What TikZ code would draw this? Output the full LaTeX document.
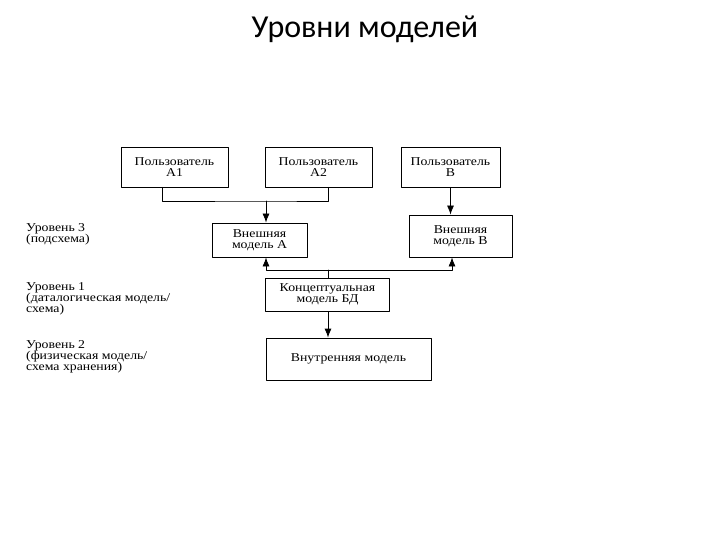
\documentclass[tikz,border=0pt]{standalone}
\usepackage{fontspec}
\setmainfont{Liberation Serif}
\newfontfamily\titlefont{Carlito}
\newfontfamily\boxfont[FakeStretch=1.15]{Liberation Serif}
\usetikzlibrary{arrows.meta,calc}

\begin{document}
\begin{tikzpicture}[line cap=round,line join=round,x=1pt,y=-1pt,
    box/.style={draw,line width=0.8pt,align=center,inner sep=1pt,font=\boxfont\fontsize{12}{11.5}\selectfont},
    lvl/.style={anchor=north west,align=left,inner sep=0pt,font=\boxfont\fontsize{12}{11}\selectfont},
    link/.style={line width=0.8pt},
    arr/.style={line width=0.8pt,-{Latex[length=9pt,width=7pt]}}]
    \useasboundingbox (0,0) rectangle (720,540);
    % title
    \node[font=\titlefont\fontsize{32}{32}\selectfont] (title) at (365,29) {Уровни моделей};
    % users
    \node[box,minimum width=107,minimum height=40] (ua1) at (174.5,167) {Пользователь\\А1};
    \node[box,minimum width=107,minimum height=40] (ua2) at (318.5,167) {Пользователь\\А2};
    \node[box,minimum width=99,minimum height=40] (ub) at (450.5,167) {Пользователь\\В};
    % external models
    \node[box,minimum width=95,minimum height=34] (ma) at (259.5,240) {Внешняя\\модель А};
    \node[box,minimum width=103,minimum height=42] (mb) at (460.5,236) {Внешняя\\модель В};
    % conceptual and internal
    \node[box,minimum width=124,minimum height=33] (cm) at (327.5,294.5) {Концептуальная\\модель БД};
    \node[box,minimum width=165,minimum height=42] (im) at (348.5,359) {Внутренняя модель};
    % level labels
    \node[lvl] (lv3) at (26,223) {Уровень 3\\ (подсхема)};
    \node[lvl] (lv1) at (26,282) {Уровень 1\\(даталогическая модель/\\схема)};
    \node[lvl] (lv2) at (26,340) {Уровень 2\\ (физическая модель/\\схема хранения)};
    % connectors
    \coordinate (jA) at (266,201);
    \coordinate (jC) at (328,270);
    \draw[link] ([xshift=-12]ua1.south) |- (jA) -| ([xshift=10]ua2.south);
    \draw[arr] (jA) -- ([xshift=6.5]ma.north);
    \draw[arr] (ub.south) -- (ub.south |- mb.north);
    \draw[link] (cm.north -| jC) -- (jC);
    \draw[arr] (jC) -| ([xshift=6.5]ma.south);
    \draw[arr] (jC) -| ([xshift=-8.5]mb.south);
    \draw[arr] (cm.south -| jC) -- (im.north -| jC);
\end{tikzpicture}
\end{document}
